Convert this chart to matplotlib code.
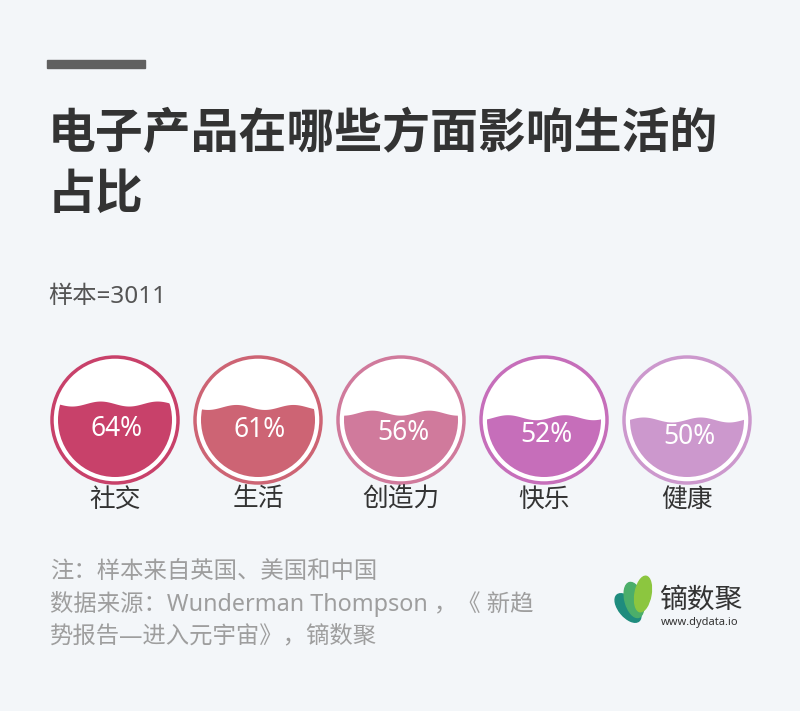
import matplotlib.pyplot as plt
import numpy as np
from matplotlib.patches import Circle, Ellipse, Rectangle, Polygon

plt.rcParams['font.family'] = ['Noto Sans', 'Noto Sans CJK SC', 'DejaVu Sans']

# 数据
categories = ['社交', '生活', '创造力', '快乐', '健康']
values = [64, 61, 56, 52, 50]
colors = ['#C8416A', '#CD6474', '#D07A9C', '#C66EBA', '#CC98CD']

title_lines = ['电子产品在哪些方面影响生活的', '占比']
sample_text = '样本=3011'
notes = ['注：样本来自英国、美国和中国',
         '数据来源：Wunderman Thompson ，《 新趋',
         '势报告—进入元宇宙》，镝数聚']

cjk = ['Noto Sans CJK SC', 'DejaVu Sans']

bg = '#F3F6F9'
fig = plt.figure(figsize=(8, 7.11), dpi=100)
fig.patch.set_facecolor(bg)
ax = fig.add_axes([0, 0, 1, 1])
ax.set_xlim(0, 800)
ax.set_ylim(711, 0)
ax.set_aspect('equal')
ax.axis('off')

# 顶部灰条
ax.add_patch(Rectangle((47, 60), 98, 8, color='#606060'))

# 标题
for i, line in enumerate(title_lines):
    ax.text(48, 134 + i * 60, line, fontsize=34.5, fontweight='bold',
            color='#333333', va='center', ha='left', family=cjk)

ax.text(48, 297, sample_text, fontsize=17.5, color='#555555', va='center')

# 水球图
cy = 420
r_out = 63
r_in = 57
x0, dx = 115, 143
for i, (cat, val, col) in enumerate(zip(categories, values, colors)):
    cx = x0 + i * dx
    ax.add_patch(Circle((cx, cy), r_out, facecolor='white', edgecolor=col, lw=2.5))
    level = cy + r_in - val / 100 * 2 * r_in
    xs = np.linspace(cx - r_in, cx + r_in, 200)
    wave = level + 2.5 * np.sin((xs - cx) / (2 * r_in) * 4 * np.pi + i * 0.8)
    poly = Polygon(np.column_stack([np.r_[xs, xs[::-1]],
                                    np.r_[wave, np.full_like(xs, cy + r_in + 5)]]),
                   closed=True, facecolor=col, edgecolor='none')
    ax.add_patch(poly)
    clip = Circle((cx, cy), r_in, transform=ax.transData)
    poly.set_clip_path(clip)
    ax.text(cx + 2, (level + cy + r_in) / 2 - 12, f'{val}%', fontsize=19,
            color='white', ha='center', va='center')
    ax.text(cx, 500, cat, fontsize=18.5, color='#333333', ha='center', va='center')

# 注释
for i, line in enumerate(notes):
    ax.text(50, 572 + i * 32, line, fontsize=16.8, color='#9E9E9E', va='center')

# logo
ax.add_patch(Ellipse((628, 608), 18, 34, angle=-40, color='#1E8C7E'))
ax.add_patch(Ellipse((634, 600), 18, 36, angle=-15, color='#4BAE6A'))
ax.add_patch(Ellipse((643, 594), 16, 36, angle=10, color='#8CC63F'))
ax.text(659, 600, '镝数聚', fontsize=20, color='#333333', va='center', family=cjk)
ax.text(661, 623, 'www.dydata.io', fontsize=8, color='#333333', va='center')

plt.savefig('out.png', dpi=100, facecolor=bg)
